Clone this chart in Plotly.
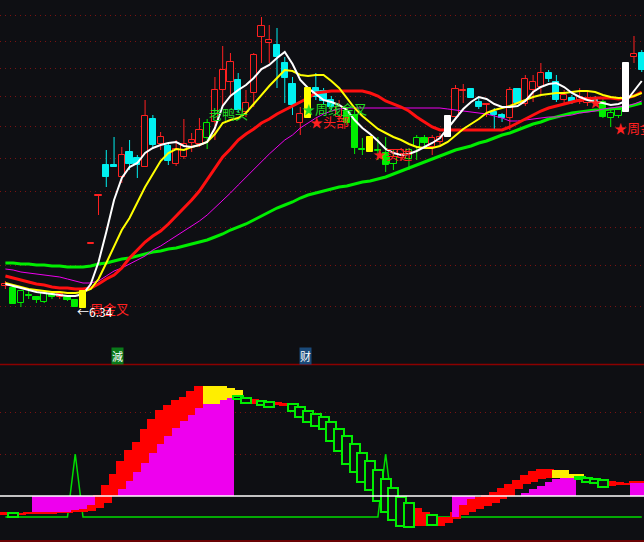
import plotly.graph_objects as go

BG = '#0e0f13'

# ---------------- main panel data (prices) ----------------
idx = list(range(83))
styles = ['r', 'g', 'gh', 'g', 'g', 'gh', 'g', 'r', 'g', 'g',
          'y', 'r', 'r', 'c', 'c', 'r', 'c', 'c', 'r', 'c',
          'r', 'c', 'r', 'r', 'r', 'r', 'gh', 'r', 'r', 'r',
          'c', 'r', 'r', 'r', 'r', 'c', 'c', 'c', 'r', 'y',
          'c', 'c', 'c', 'r', 'g', 'g', 'g', 'y', 'g', 'g',
          'gh', 'r', 'gh', 'gh', 'g', 'r', 'r', 'w', 'r', 'r',
          'c', 'c', 'r', 'c', 'c', 'r', 'c', 'r', 'r', 'r',
          'c', 'c', 'r', 'c', 'r', 'r', 'c', 'g', 'gh', 'gh',
          'w', 'r', 'c']
opens = [6.78, 6.74, 6.44, 6.60, 6.56, 6.46, 6.62, 6.56, 6.56, 6.50,
         6.34, 7.62, 8.58, 9.20, 9.20, 8.96, 9.46, 9.34, 9.16, 10.12,
         9.62, 9.58, 9.22, 9.36, 9.64, 9.62, 9.74, 10.06, 10.70, 10.86,
         10.90, 10.26, 10.64, 11.76, 11.64, 11.60, 11.24, 10.82, 10.04, 10.14,
         10.74, 10.68, 10.50, 10.16, 10.26, 10.20, 9.52, 9.46, 9.50, 9.44,
         9.22, 9.34, 9.32, 9.56, 9.74, 9.56, 9.66, 9.76, 10.16, 10.68,
         10.72, 10.46, 10.40, 10.26, 10.20, 10.14, 10.72, 10.42, 10.70, 10.76,
         11.04, 10.86, 10.50, 10.54, 10.46, 10.44, 10.54, 10.46, 10.14, 10.18,
         10.26, 11.36, 11.44]
highs = [6.88, 6.78, 6.70, 6.68, 6.58, 6.66, 6.66, 6.66, 6.58, 6.52,
         6.68, 7.64, 8.60, 9.50, 9.76, 9.56, 9.70, 9.40, 10.50, 10.20,
         9.86, 9.64, 9.70, 10.12, 9.84, 10.14, 10.12, 10.96, 11.58, 11.44,
         11.04, 10.70, 11.44, 12.16, 12.00, 11.94, 11.36, 10.96, 10.36, 10.74,
         11.04, 10.74, 10.58, 10.50, 10.34, 10.30, 9.74, 9.76, 9.76, 9.76,
         9.50, 9.54, 9.54, 9.80, 9.80, 9.80, 9.84, 10.18, 10.80, 10.82,
         10.72, 10.54, 10.44, 10.34, 10.24, 10.76, 10.74, 11.00, 11.00, 11.24,
         11.10, 11.00, 10.70, 10.60, 10.74, 10.66, 10.58, 10.54, 10.30, 10.36,
         11.24, 11.78, 11.50]
lows = [6.72, 6.42, 6.36, 6.52, 6.44, 6.44, 6.52, 6.52, 6.48, 6.36,
        6.34, 7.62, 8.20, 8.76, 9.16, 8.84, 9.10, 8.94, 9.16, 9.56,
        9.50, 9.20, 9.18, 9.32, 9.46, 9.56, 9.52, 9.70, 10.36, 10.60,
        10.24, 10.16, 10.36, 11.24, 11.24, 10.74, 10.44, 10.20, 9.80, 10.14,
        10.50, 10.42, 10.30, 10.10, 10.00, 9.42, 9.40, 9.46, 9.30, 9.06,
        9.10, 9.28, 9.10, 9.30, 9.58, 9.40, 9.60, 9.76, 10.14, 10.44,
        10.54, 10.32, 10.16, 9.90, 10.06, 9.90, 10.42, 10.38, 10.46, 10.60,
        10.86, 10.46, 10.40, 10.42, 10.42, 10.38, 10.42, 10.14, 9.96, 10.14,
        10.26, 11.24, 11.06]
closes = [6.82, 6.42, 6.68, 6.58, 6.50, 6.64, 6.56, 6.62, 6.50, 6.36,
          6.68, 7.64, 8.60, 8.96, 9.16, 9.40, 9.22, 9.20, 10.18, 9.60,
          9.76, 9.28, 9.52, 9.62, 9.70, 9.90, 10.04, 10.70, 11.10, 11.26,
          10.30, 10.44, 11.40, 11.98, 11.70, 11.36, 10.94, 10.40, 10.22, 10.74,
          10.56, 10.48, 10.36, 10.36, 10.04, 9.54, 9.50, 9.76, 9.48, 9.20,
          9.36, 9.50, 9.50, 9.74, 9.64, 9.74, 9.76, 10.18, 10.72, 10.70,
          10.54, 10.36, 10.42, 10.20, 10.14, 10.70, 10.44, 10.92, 10.86, 11.04,
          10.92, 10.50, 10.60, 10.46, 10.56, 10.54, 10.48, 10.16, 10.24, 10.30,
          11.24, 11.42, 11.10]

ma_white = [6.82, 6.78, 6.74, 6.70, 6.66, 6.64, 6.62, 6.60, 6.58, 6.58,
            6.62, 6.82, 7.26, 7.86, 8.50, 8.94, 9.16, 9.24, 9.44, 9.54,
            9.60, 9.64, 9.66, 9.58, 9.56, 9.60, 9.66, 9.94, 10.38, 10.58,
            10.70, 10.80, 10.94, 11.12, 11.20, 11.34, 11.46, 11.22, 10.90, 10.74,
            10.62, 10.50, 10.46, 10.40, 10.30, 10.10, 9.94, 9.82, 9.68, 9.52,
            9.44, 9.40, 9.42, 9.48, 9.56, 9.64, 9.74, 9.94, 10.14, 10.32,
            10.46, 10.56, 10.52, 10.42, 10.36, 10.36, 10.38, 10.48, 10.66, 10.76,
            10.82, 10.84, 10.76, 10.64, 10.56, 10.50, 10.46, 10.44, 10.40, 10.42,
            10.48, 10.68, 10.88]
ma_yellow = [6.84, 6.80, 6.76, 6.72, 6.70, 6.68, 6.66, 6.66, 6.64, 6.64,
             6.66, 6.72, 6.92, 7.24, 7.58, 7.90, 8.14, 8.46, 8.76, 9.02,
             9.28, 9.44, 9.52, 9.50, 9.56, 9.60, 9.66, 9.82, 10.04, 10.10,
             10.14, 10.24, 10.42, 10.62, 10.78, 10.94, 11.10, 11.08, 11.00, 10.98,
             11.00, 11.00, 10.88, 10.74, 10.54, 10.34, 10.18, 10.04, 9.92, 9.84,
             9.76, 9.70, 9.62, 9.56, 9.54, 9.54, 9.58, 9.66, 9.80, 9.92,
             10.02, 10.12, 10.24, 10.30, 10.34, 10.38, 10.44, 10.50, 10.56, 10.60,
             10.62, 10.64, 10.64, 10.66, 10.68, 10.68, 10.66, 10.60, 10.56, 10.54,
             10.54, 10.58, 10.64]
ma_red = [6.98, 6.94, 6.90, 6.86, 6.82, 6.80, 6.76, 6.74, 6.74, 6.72,
          6.72, 6.74, 6.82, 6.92, 7.00, 7.14, 7.34, 7.50, 7.66, 7.78,
          7.88, 8.02, 8.18, 8.32, 8.50, 8.68, 8.90, 9.14, 9.36, 9.52,
          9.70, 9.82, 9.92, 10.04, 10.12, 10.22, 10.30, 10.38, 10.46, 10.54,
          10.64, 10.66, 10.68, 10.68, 10.68, 10.68, 10.68, 10.64, 10.58, 10.48,
          10.42, 10.36, 10.28, 10.16, 10.06, 9.96, 9.90, 9.90, 9.90, 9.90,
          9.90, 9.90, 9.90, 9.90, 9.90, 9.96, 10.04, 10.12, 10.20, 10.28,
          10.34, 10.38, 10.42, 10.46, 10.50, 10.52, 10.54, 10.54, 10.54, 10.52,
          10.54, 10.58, 10.66]
ma_magenta = [7.12, 7.10, 7.06, 7.04, 7.02, 7.00, 6.98, 6.96, 6.92, 6.88,
              6.84, 6.84, 6.88, 6.98, 7.08, 7.14, 7.22, 7.30, 7.38, 7.50,
              7.58, 7.68, 7.78, 7.88, 7.98, 8.08, 8.20, 8.34, 8.50, 8.64,
              8.80, 8.96, 9.12, 9.26, 9.42, 9.56, 9.70, 9.80, 9.94, 10.04,
              10.14, 10.22, 10.28, 10.32, 10.34, 10.34, 10.34, 10.34, 10.34, 10.34,
              10.34, 10.34, 10.34, 10.34, 10.34, 10.34, 10.34, 10.32, 10.30, 10.28,
              10.26, 10.24, 10.22, 10.18, 10.14, 10.08, 10.08, 10.10, 10.12, 10.14,
              10.16, 10.16, 10.18, 10.20, 10.24, 10.26, 10.28, 10.32, 10.34, 10.36,
              10.38, 10.42, 10.48]
ma_green = [7.24, 7.24, 7.22, 7.22, 7.20, 7.20, 7.18, 7.18, 7.16, 7.16,
            7.16, 7.18, 7.22, 7.24, 7.28, 7.32, 7.34, 7.38, 7.42, 7.46,
            7.48, 7.52, 7.54, 7.58, 7.62, 7.66, 7.70, 7.76, 7.82, 7.90,
            7.96, 8.02, 8.10, 8.18, 8.26, 8.34, 8.40, 8.46, 8.54, 8.60,
            8.64, 8.68, 8.72, 8.76, 8.78, 8.82, 8.86, 8.88, 8.92, 8.96,
            9.02, 9.08, 9.14, 9.20, 9.26, 9.32, 9.38, 9.44, 9.50, 9.54,
            9.58, 9.64, 9.68, 9.74, 9.80, 9.84, 9.90, 9.96, 10.02, 10.06,
            10.12, 10.16, 10.20, 10.24, 10.26, 10.28, 10.30, 10.30, 10.32, 10.34,
            10.36, 10.40, 10.44]
price_grid = [6.366, 7.188, 7.952, 8.668, 9.338, 9.97, 10.568, 11.134, 11.672, 12.186]

# ---------------- lower panel data ----------------
ind_line = [-0.21, -0.21, -0.21, -0.21, -0.21, -0.21, -0.21, -0.21, -0.21, 0.42,
            -0.21, -0.21, -0.21, -0.21, -0.21, -0.21, -0.21, -0.21, -0.21, -0.21,
            -0.21, -0.21, -0.21, -0.21, -0.21, -0.21, -0.21, -0.21, -0.21, -0.21,
            -0.21, -0.21, -0.21, -0.21, -0.21, -0.21, -0.21, -0.21, -0.21, -0.21,
            -0.21, -0.21, -0.21, -0.21, -0.21, -0.21, -0.21, -0.21, -0.21, 0.42,
            -0.21, -0.21, -0.21, -0.21, -0.21, -0.21, -0.21, -0.21, -0.21, -0.21,
            -0.21, -0.21, -0.21, -0.21, -0.21, -0.21, -0.21, -0.21, -0.21, -0.21,
            -0.21, -0.21, -0.21, -0.21, -0.21, -0.21, -0.21, -0.21, -0.21, -0.21,
            -0.21, -0.21, -0.21]
N = None
mag_bar = [N, N, N, N, -0.16, -0.16, -0.16, -0.16, -0.16, -0.14,
           -0.13, -0.09, N, N, N, 0.07, 0.15, 0.24, 0.33, 0.43,
           0.52, 0.60, 0.68, 0.75, 0.81, 0.88, 0.92, 0.92, 0.96, 0.98,
           N, N, N, N, N, N, N, N, N, N,
           N, N, N, N, N, N, N, N, N, N,
           N, N, N, N, N, N, N, N, -0.21, -0.09,
           -0.03, N, N, N, N, N, N, 0.03, 0.07, 0.10,
           0.14, 0.17, 0.18, 0.18, N, N, N, N, N, N,
           N, 0.13, 0.13]
red_hi = [-0.16, N, -0.17, -0.16, -0.16, -0.16, -0.16, -0.16, -0.16, -0.14,
          -0.13, -0.09, 0.01, 0.11, 0.22, 0.35, 0.46, 0.54, 0.67, 0.77,
          0.86, 0.91, 0.96, 0.99, 1.05, 1.10, N, N, N, N,
          N, N, 0.97, N, N, 0.94, 0.93, N, N, N,
          N, N, N, N, N, N, N, N, N, N,
          N, N, N, -0.12, -0.16, N, -0.21, -0.21, -0.16, -0.09,
          -0.03, -0.01, 0.01, 0.04, 0.08, 0.12, 0.16, 0.21, 0.25, 0.27,
          0.27, N, N, N, N, N, N, N, 0.15, 0.14,
          0.13, 0.15, 0.15]
red_lo = [-0.19, N, -0.19, -0.18, -0.18, -0.18, -0.18, -0.17, -0.17, -0.16,
          -0.16, -0.15, -0.12, -0.07, 0.00, 0.07, 0.15, 0.24, 0.33, 0.43,
          0.52, 0.60, 0.68, 0.75, 0.81, 0.88, N, N, N, N,
          N, N, 0.92, N, N, 0.91, 0.90, N, N, N,
          N, N, N, N, N, N, N, N, N, N,
          N, N, N, -0.30, -0.30, N, -0.30, -0.27, -0.23, -0.19,
          -0.16, -0.13, -0.10, -0.07, -0.03, 0.00, 0.07, 0.12, 0.14, 0.17,
          0.18, N, N, N, N, N, N, N, 0.10, 0.11,
          0.11, 0.13, 0.13]
yel_hi = [N, N, N, N, N, N, N, N, N, N,
          N, N, N, N, N, N, N, N, N, N,
          N, N, N, N, N, N, 1.10, 1.10, 1.10, 1.08,
          1.06, N, N, N, N, N, N, N, N, N,
          N, N, N, N, N, N, N, N, N, N,
          N, N, N, N, N, N, N, N, N, N,
          N, N, N, N, N, N, N, N, N, N,
          N, 0.26, 0.26, 0.22, 0.22, N, N, N, N, N,
          N, N, N]
yel_lo = [N, N, N, N, N, N, N, N, N, N,
          N, N, N, N, N, N, N, N, N, N,
          N, N, N, N, N, N, 0.92, 0.92, 0.96, 0.98,
          0.99, N, N, N, N, N, N, N, N, N,
          N, N, N, N, N, N, N, N, N, N,
          N, N, N, N, N, N, N, N, N, N,
          N, N, N, N, N, N, N, N, N, N,
          N, 0.18, 0.18, 0.18, 0.18, N, N, N, N, N,
          N, N, N]
gh_hi = [N, -0.17, N, N, N, N, N, N, N, N,
         N, N, N, N, N, N, N, N, N, N,
         N, N, N, N, N, N, N, N, N, N,
         1.00, 0.98, N, 0.95, 0.94, N, N, 0.92, 0.89, 0.85,
         0.82, 0.79, 0.74, 0.67, 0.60, 0.52, 0.43, 0.35, 0.26, 0.17,
         0.08, -0.01, -0.07, N, N, -0.19, N, N, N, N,
         N, N, N, N, N, N, N, N, N, N,
         N, N, N, N, 0.19, 0.18, 0.17, 0.16, N, N,
         N, N, N]
gh_lo = [N, -0.21, N, N, N, N, N, N, N, N,
         N, N, N, N, N, N, N, N, N, N,
         N, N, N, N, N, N, N, N, N, N,
         0.97, 0.93, N, 0.91, 0.89, N, N, 0.85, 0.79, 0.74,
         0.70, 0.67, 0.55, 0.45, 0.32, 0.24, 0.14, 0.06, -0.05, -0.16,
         -0.24, -0.30, -0.31, N, N, -0.29, N, N, N, N,
         N, N, N, N, N, N, N, N, N, N,
         N, N, N, N, 0.17, 0.14, 0.13, 0.09, N, N,
         N, N, N]
ind_grid = [0.42, 0.84]

# ---------------- helpers ----------------
STY = {'r': ('#ff2020', BG), 'c': ('#00f0f0', '#00f0f0'), 'g': ('#00ee00', '#00ee00'),
       'gh': ('#00ee00', BG), 'y': ('#ffff00', '#ffff00'), 'w': ('#ffffff', '#ffffff')}
XR = [-0.696, 82.29]


def candles(fig, key, xa, ya):
    line_c, fill_c = STY[key]
    xs, base, hgt, wx, wy = [], [], [], [], []
    for i in idx:
        if styles[i] != key:
            continue
        top = max(opens[i], closes[i])
        bot = min(opens[i], closes[i])
        xs.append(i)
        base.append(bot)
        hgt.append(max(top - bot, 0.02))
        wx += [i, i, None, i, i, None]
        wy += [highs[i], top, None, bot, lows[i], None]
    fig.add_trace(go.Scatter(x=wx, y=wy, mode='lines', line=dict(color=line_c, width=1),
                             xaxis=xa, yaxis=ya, hoverinfo='skip', showlegend=False))
    fig.add_trace(go.Bar(x=xs, y=hgt, base=base, width=0.8,
                         marker=dict(color=fill_c, line=dict(color=line_c, width=1)),
                         xaxis=xa, yaxis=ya, hoverinfo='skip', showlegend=False))


def span_bars(fig, hi, lo, color, fill, width, lw):
    xs, base, hgt = [], [], []
    for i in idx:
        if hi[i] is None:
            continue
        xs.append(i)
        base.append(min(hi[i], lo[i]))
        hgt.append(abs(hi[i] - lo[i]))
    fig.add_trace(go.Bar(x=xs, y=hgt, base=base, width=width,
                         marker=dict(color=fill, line=dict(color=color, width=lw)),
                         xaxis='x4', yaxis='y4', hoverinfo='skip', showlegend=False))


fig = go.Figure()

# main candles (normal colours)
for k in ['r', 'c', 'g', 'gh']:
    candles(fig, k, 'x', 'y')

# moving averages
for vals, col, w in [(ma_green, '#00ee00', 3), (ma_magenta, '#ee00ee', 1),
                     (ma_red, '#ff1010', 3), (ma_yellow, '#ffff00', 2),
                     (ma_white, '#ffffff', 2)]:
    fig.add_trace(go.Scatter(x=idx, y=vals, mode='lines', line=dict(color=col, width=w),
                             xaxis='x', yaxis='y', hoverinfo='skip', showlegend=False))

# signal candles drawn on top
for k in ['y', 'w']:
    candles(fig, k, 'x3', 'y3')

# lower panel
fig.add_trace(go.Scatter(x=idx, y=ind_line, mode='lines', line=dict(color='#00dd00', width=1.5),
                         xaxis='x2', yaxis='y2', hoverinfo='skip', showlegend=False))
span_bars(fig, red_hi, red_lo, '#ff0000', '#ff0000', 1.38, 0)
mag_x = [i for i in idx if mag_bar[i] is not None]
mag_y = [mag_bar[i] for i in idx if mag_bar[i] is not None]
fig.add_trace(go.Bar(x=mag_x, y=mag_y, base=0, width=1.02,
                     marker=dict(color='#ee00ee', line=dict(width=0)),
                     xaxis='x4', yaxis='y4', hoverinfo='skip', showlegend=False))
span_bars(fig, yel_hi, yel_lo, '#ffee00', '#ffee00', 1.2, 0)
span_bars(fig, gh_hi, gh_lo, '#00ee00', BG, 1.28, 2)

MAIN_DOM = [1 - 363 / 542, 1]
SUB_DOM = [0, 177 / 542]
GRID = dict(showticklabels=False, ticks='', showline=False, zeroline=False,
            showgrid=True, gridcolor='#7a1212', griddash='1px,4px', gridwidth=1)
ax_common = dict(range=XR, visible=False, fixedrange=True)
fig.update_layout(
    width=644, height=542, margin=dict(l=0, r=0, t=0, b=0),
    paper_bgcolor=BG, plot_bgcolor=BG, barmode='overlay', bargap=0,
    showlegend=False,
    xaxis=dict(domain=[0, 1], anchor='y', **ax_common),
    yaxis=dict(domain=MAIN_DOM, anchor='x', range=[5.24, 12.5], tickvals=price_grid, **GRID),
    xaxis2=dict(domain=[0, 1], anchor='y2', **ax_common),
    yaxis2=dict(domain=SUB_DOM, anchor='x2', range=[-0.46, 1.31], tickvals=ind_grid, **GRID),
    xaxis3=dict(domain=[0, 1], anchor='y3', overlaying='x', **ax_common),
    yaxis3=dict(domain=MAIN_DOM, anchor='x3', overlaying='y', range=[5.24, 12.5], visible=False),
    xaxis4=dict(domain=[0, 1], anchor='y4', overlaying='x2', **ax_common),
    yaxis4=dict(domain=SUB_DOM, anchor='x4', overlaying='y2', range=[-0.46, 1.31], visible=False),
)

fig.add_shape(type='line', xref='paper', yref='paper', x0=0, x1=1,
              y0=1 - 364.5 / 542, y1=1 - 364.5 / 542, line=dict(color='#8b0000', width=1.5))
fig.add_shape(type='line', xref='paper', yref='paper', x0=0, x1=1,
              y0=0.002, y1=0.002, line=dict(color='#8b0000', width=1.5))
fig.add_shape(type='line', xref='paper', yref='y2', x0=0, x1=1, y0=0, y1=0,
              line=dict(color='#ffffff', width=1.5), layer='above')

FONT = 'Noto Sans CJK SC'
labels = [
    ('周金叉', 10.6, 6.34, '#ff2020', 13),
    ('←6.34', 9.0, 6.28, '#ffffff', 12),
    ('老鸭头', 26.0, 10.24, '#22dd22', 13),
    ('★周线金叉', 37.9, 10.34, '#22dd22', 13),
    ('★头部', 39.0, 10.08, '#ff2020', 13),
    ('★买进', 47.1, 9.44, '#ff2020', 13),
    ('★', 74.9, 10.48, '#ff2020', 13),
    ('★周金', 78.2, 9.96, '#ff2020', 13),
]
for t, x, y, c, s in labels:
    fig.add_annotation(x=x, y=y, xref='x', yref='y', text=t, showarrow=False,
                       xanchor='left', yanchor='middle', font=dict(color=c, size=s, family=FONT))

for t, x, bg in [('減', 14.4, '#0a7a1a'), ('财', 38.7, '#1a4a7a')]:
    fig.add_annotation(x=x, y=5.38, xref='x', yref='y', text=t, showarrow=False,
                       xanchor='center', yanchor='middle', bgcolor=bg, borderpad=0,
                       font=dict(color='#ffffff', size=11, family=FONT))

fig.write_html('out.html', config={'displayModeBar': False},
               post_script="document.body.style.margin='0';document.body.style.overflow='hidden';")
